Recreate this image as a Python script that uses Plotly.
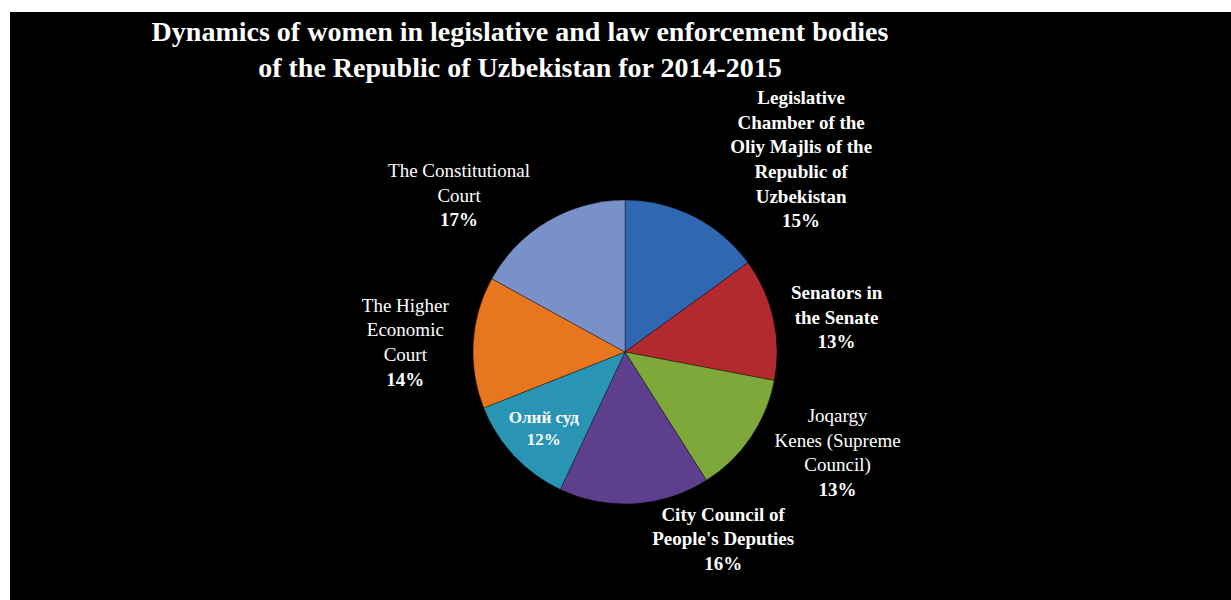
import plotly.graph_objects as go

categories = [
    "Legislative Chamber of the Oliy Majlis of the Republic of Uzbekistan",
    "Senators in the Senate",
    "Joqargy Kenes (Supreme Council)",
    "City Council of People's Deputies",
    "Олий суд",
    "The Higher Economic Court",
    "The Constitutional Court",
]
values = [15, 13, 13, 16, 12, 14, 17]
label_text = [
    "<b>Legislative<br>Chamber of the<br>Oliy Majlis of the<br>Republic of<br>Uzbekistan</b>",
    "<b>Senators in<br>the Senate</b>",
    "Joqargy<br>Kenes (Supreme<br>Council)",
    "<b>City Council of<br>People's Deputies</b>",
    "<b>Олий суд</b>",
    "The Higher<br>Economic<br>Court",
    "The Constitutional<br>Court",
]
colors = ["#2F68B0", "#B22A2E", "#7FA83A", "#5E3F8E", "#2A94B4", "#E8761F", "#7A90C8"]
positions = ["outside", "outside", "outside", "outside", "inside", "outside", "outside"]

W, H = 1231, 600
cx, cy, r = 625, 352, 152

fig = go.Figure(
    go.Pie(
        labels=categories,
        values=values,
        customdata=label_text,
        texttemplate="%{customdata}<br><b>%{percent:.0%}</b>",
        textposition=positions,
        insidetextorientation="horizontal",
        sort=False,
        direction="clockwise",
        rotation=0,
        marker=dict(colors=colors, line=dict(color="rgba(0,0,0,0.35)", width=1)),
        textfont=dict(family="Liberation Serif", size=19, color="white"),
        outsidetextfont=dict(family="Liberation Serif", size=19, color="white"),
        insidetextfont=dict(family="Liberation Serif", size=19, color="white"),
        domain=dict(x=[(cx - r) / W, (cx + r) / W], y=[(H - cy - r) / H, (H - cy + r) / H]),
        showlegend=False,
        hoverinfo="label+percent",
    )
)

fig.update_layout(
    width=W,
    height=H,
    margin=dict(l=0, r=0, t=0, b=0, pad=0, autoexpand=False),
    paper_bgcolor="white",
    shapes=[
        dict(type="rect", xref="paper", yref="paper", x0=10 / W, x1=1, y0=0, y1=1 - 12 / H,
             fillcolor="black", line=dict(width=0), layer="below")
    ],
    title=dict(
        text="<b>Dynamics of women in legislative and law enforcement bodies<br>of the Republic of Uzbekistan for 2014-2015</b>",
        x=520 / W,
        xanchor="center",
        y=1 - 41 / H,
        yanchor="top",
        font=dict(family="Liberation Serif", size=28, color="white"),
    ),
)

fig.write_html("out.html")
